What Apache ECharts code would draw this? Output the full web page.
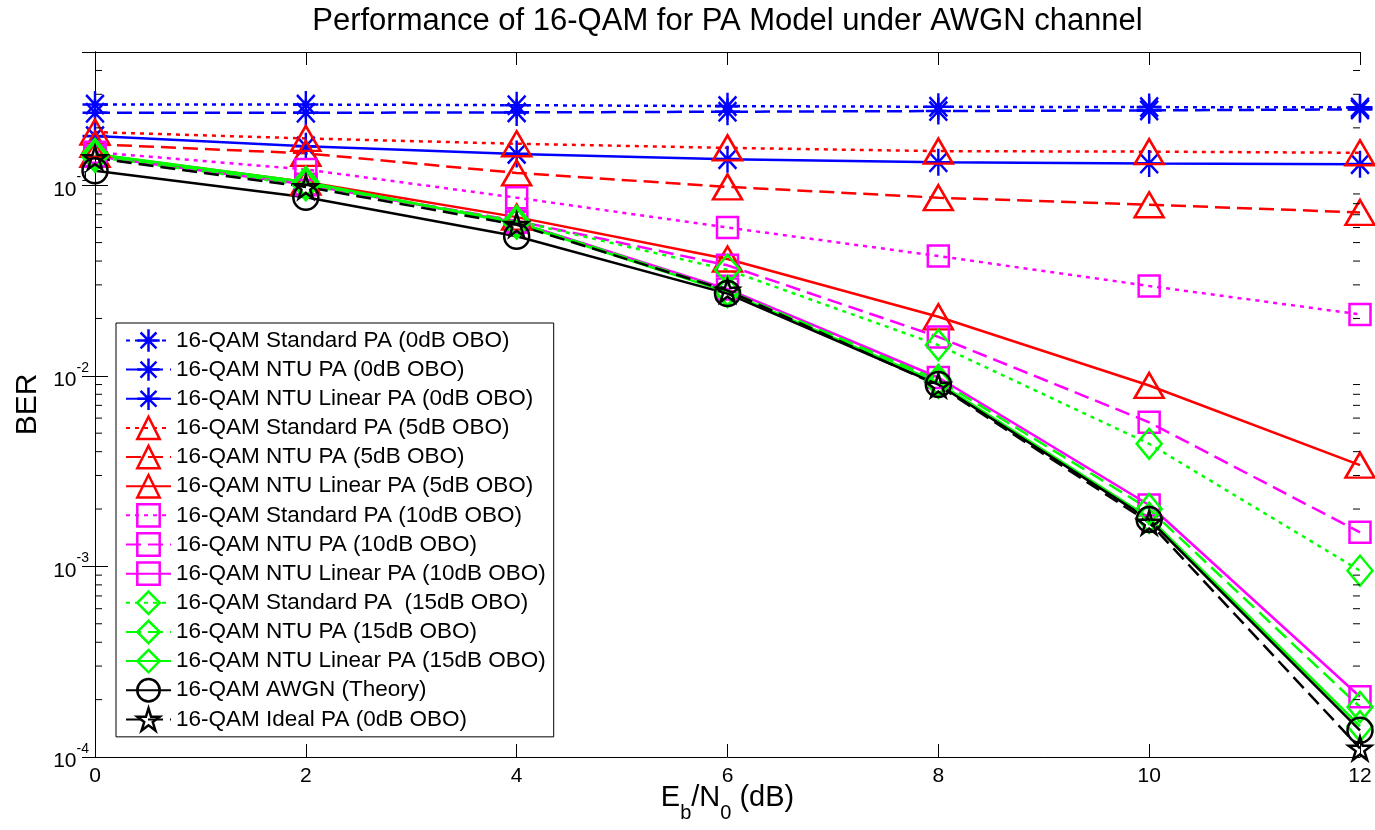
<!DOCTYPE html>
<html>
<head>
<meta charset="utf-8">
<script src="https://cdn.jsdelivr.net/npm/echarts@6/dist/echarts.min.js"></script>
<style>
  html, body { margin: 0; padding: 0; background: #fff; }
  #chart { width: 1375px; height: 830px; }
</style>
</head>
<body>
<div id="chart"></div>
<script>
// Eb/N0 sweep (dB)
const ebn0 = [0, 2, 4, 6, 8, 10, 12];
const xTicks = [0, 2, 4, 6, 8, 10, 12];
const yDecades = [1e-4, 1e-3, 1e-2, 1e-1];

// BER curves, 0 dB output back-off
const stdPa0   = [0.265, 0.265, 0.263, 0.260, 0.258, 0.257, 0.256];
const ntuPa0   = [0.240, 0.240, 0.241, 0.243, 0.245, 0.247, 0.250];
const ntuLin0  = [0.181, 0.160, 0.146, 0.137, 0.132, 0.130, 0.129];
// 5 dB OBO
const stdPa5   = [0.190, 0.176, 0.165, 0.157, 0.151, 0.150, 0.148];
const ntuPa5   = [0.164, 0.147, 0.116, 0.098, 0.086, 0.079, 0.072];
const ntuLin5  = [0.145, 0.104, 0.068, 0.041, 0.0204, 0.0089, 0.0034];
// 10 dB OBO
const stdPa10  = [0.149, 0.121, 0.086, 0.060, 0.0425, 0.0296, 0.021];
const ntuPa10  = [0.143, 0.101, 0.065, 0.038, 0.0160, 0.0057, 0.00151];
const ntuLin10 = [0.142, 0.101, 0.064, 0.0285, 0.0098, 0.0021, 0.000207];
// 15 dB OBO
const stdPa15  = [0.141, 0.100, 0.065, 0.036, 0.0145, 0.0044, 0.00095];
const ntuPa15  = [0.144, 0.102, 0.064, 0.028, 0.0095, 0.0020, 0.000183];
const ntuLin15 = [0.146, 0.104, 0.063, 0.0275, 0.0092, 0.0018, 0.000145];
// references
const awgnTheory = [0.119, 0.0865, 0.054, 0.027, 0.0090, 0.00176, 0.000138];
const idealPa0   = [0.139, 0.098, 0.062, 0.028, 0.0089, 0.00170, 0.000111];

const FONT = '"Liberation Sans", Arial, Helvetica, sans-serif';

// marker shapes
const ASTERISK = 'path://M0,-10L0,10M-10,0L10,0M-7.1,-7.1L7.1,7.1M-7.1,7.1L7.1,-7.1';
const PENTAGRAM = 'path://M0,-100L22,-31L95,-31L36,12L59,81L0,38L-59,81L-36,12L-95,-31L-22,-31Z';

const DOT = [4, 5];
const DASH = [15, 7];

const curves = [
  { name: '16-QAM Standard PA (0dB OBO)',       data: stdPa0,   color: '#0000ff', dash: DOT,     symbol: ASTERISK, size: [25, 27] },
  { name: '16-QAM NTU PA (0dB OBO)',            data: ntuPa0,   color: '#0000ff', dash: DASH,    symbol: ASTERISK, size: [25, 27] },
  { name: '16-QAM NTU Linear PA (0dB OBO)',     data: ntuLin0,  color: '#0000ff', dash: 'solid', symbol: ASTERISK, size: [25, 27] },
  { name: '16-QAM Standard PA (5dB OBO)',       data: stdPa5,   color: '#ff0000', dash: DOT,     symbol: 'triangle', size: [29, 25] },
  { name: '16-QAM NTU PA (5dB OBO)',            data: ntuPa5,   color: '#ff0000', dash: DASH,    symbol: 'triangle', size: [29, 25] },
  { name: '16-QAM NTU Linear PA (5dB OBO)',     data: ntuLin5,  color: '#ff0000', dash: 'solid', symbol: 'triangle', size: [29, 25] },
  { name: '16-QAM Standard PA (10dB OBO)',      data: stdPa10,  color: '#ff00ff', dash: DOT,     symbol: 'rect', size: [21, 21] },
  { name: '16-QAM NTU PA (10dB OBO)',           data: ntuPa10,  color: '#ff00ff', dash: DASH,    symbol: 'rect', size: [21, 21] },
  { name: '16-QAM NTU Linear PA (10dB OBO)',    data: ntuLin10, color: '#ff00ff', dash: 'solid', symbol: 'rect', size: [21, 21] },
  { name: '16-QAM Standard PA  (15dB OBO)',     data: stdPa15,  color: '#00ff00', dash: DOT,     symbol: 'diamond', size: [25, 30] },
  { name: '16-QAM NTU PA (15dB OBO)',           data: ntuPa15,  color: '#00ff00', dash: DASH,    symbol: 'diamond', size: [25, 30] },
  { name: '16-QAM NTU Linear PA (15dB OBO)',    data: ntuLin15, color: '#00ff00', dash: 'solid', symbol: 'diamond', size: [25, 30] },
  { name: '16-QAM AWGN (Theory)',               data: awgnTheory, color: '#000000', dash: 'solid', symbol: 'circle', size: [25, 25] },
  { name: '16-QAM Ideal PA (0dB OBO)',          data: idealPa0, color: '#000000', dash: DASH,    symbol: PENTAGRAM, size: [23, 23] }
];

// minor tick positions of the log axis: 2..9 x 10^k
const minorTickVals = [];
[-4, -3, -2, -1].forEach(function (e) {
  [2, 3, 4, 5, 6, 7, 8, 9].forEach(function (m) {
    const v = m * Math.pow(10, e);
    if (v < 0.5) minorTickVals.push(v);
  });
});

const X_MIN = 0, X_MAX = 12, Y_MIN = 1e-4, Y_MAX = 0.5;

const lineSeries = curves.map(function (c) {
  return {
    name: c.name,
    type: 'line',
    xAxisIndex: 0,
    yAxisIndex: 0,
    data: ebn0.map(function (x, i) { return [x, c.data[i]]; }),
    symbol: c.symbol,
    symbolSize: c.size,
    symbolKeepAspect: false,
    showAllSymbol: true,
    clip: false,
    lineStyle: { color: c.color, width: 2.5, type: c.dash, cap: 'butt' },
    itemStyle: { color: 'transparent', borderColor: c.color, borderWidth: 2.5 },
    emphasis: { disabled: true },
    z: 3
  };
});

const minorTicks = {
  type: 'custom',
  xAxisIndex: 0,
  yAxisIndex: 0,
  silent: true,
  clip: false,
  z: 4,
  data: minorTickVals.map(function (v) { return [X_MIN, v]; }),
  renderItem: function (params, api) {
    const v = api.value(1);
    const l = api.coord([X_MIN, v]);
    const r = api.coord([X_MAX, v]);
    return {
      type: 'group',
      children: [
        { type: 'line', shape: { x1: l[0], y1: l[1], x2: l[0] + 7, y2: l[1] }, style: { stroke: '#000', lineWidth: 1 } },
        { type: 'line', shape: { x1: r[0] - 7, y1: r[1], x2: r[0], y2: r[1] }, style: { stroke: '#000', lineWidth: 1 } }
      ]
    };
  }
};

function decadeLabel(v) {
  for (let i = 0; i < yDecades.length; i++) {
    if (Math.abs(v - yDecades[i]) / yDecades[i] < 1e-6) {
      const exp = Math.round(Math.log10(yDecades[i]));
      return '{b|10}{e|' + exp + '}';
    }
  }
  return '';
}

const axisLine = { show: true, lineStyle: { color: '#000', width: 1 } };

const option = {
  backgroundColor: '#ffffff',
  animation: false,
  textStyle: { fontFamily: FONT },
  graphic: [{
    type: 'text',
    x: 727.5,
    y: 21,
    style: {
      text: 'Performance of 16-QAM for PA Model under AWGN channel',
      fontFamily: FONT,
      fontSize: 31,
      fill: '#000',
      align: 'center',
      verticalAlign: 'middle'
    }
  }],
  grid: { left: 95, right: 15, top: 52, bottom: 73, show: false, containLabel: false, outerBoundsMode: 'none' },
  legend: {
    orient: 'vertical',
    left: 116,
    top: 323,
    padding: [5, 8, 5, 9],
    itemWidth: 45,
    itemHeight: 28,
    itemGap: 4.25,
    backgroundColor: '#ffffff',
    borderColor: '#000',
    borderWidth: 1,
    borderRadius: 0,
    selectedMode: false,
    textStyle: { fontFamily: FONT, fontSize: 22.5, color: '#000', padding: [0, 0, 0, 0] },
    itemStyle: { borderWidth: 2.5 },
    data: curves.map(function (c) { return c.name; })
  },
  xAxis: [{
    type: 'value',
    min: X_MIN, max: X_MAX, interval: 2,
    position: 'bottom',
    axisLine: axisLine,
    axisTick: { show: true, inside: true, length: 13, lineStyle: { color: '#000' } },
    splitLine: { show: false },
    axisLabel: { show: true, margin: 9, fontFamily: FONT, fontSize: 21, color: '#000',
      formatter: function (v) { return xTicks.indexOf(v) >= 0 ? String(v) : ''; } },
    name: '{n|E}{s|b}{n|/N}{s|0}{n| (dB)}',
    nameLocation: 'middle',
    nameGap: 26,
    nameMoveOverlap: false,
    nameTextStyle: {
      rich: {
        n: { fontFamily: FONT, fontSize: 29, color: '#000', lineHeight: 40, verticalAlign: 'top' },
        s: { fontFamily: FONT, fontSize: 20, color: '#000', lineHeight: 18, verticalAlign: 'bottom' }
      }
    }
  }, {
    type: 'value',
    min: X_MIN, max: X_MAX, interval: 2,
    position: 'top',
    axisLine: axisLine,
    axisTick: { show: true, inside: true, length: 13, lineStyle: { color: '#000' } },
    splitLine: { show: false },
    axisLabel: { show: false }
  }],
  yAxis: [{
    type: 'log',
    logBase: 10,
    min: Y_MIN, max: Y_MAX,
    position: 'left',
    axisLine: axisLine,
    axisTick: { show: true, inside: true, length: 13, lineStyle: { color: '#000' } },
    splitLine: { show: false },
    minorTick: { show: false },
    axisLabel: {
      show: true, margin: 6, formatter: decadeLabel,
      rich: {
        b: { fontFamily: FONT, fontSize: 21, color: '#000', lineHeight: 30, verticalAlign: 'bottom' },
        e: { fontFamily: FONT, fontSize: 14, color: '#000', lineHeight: 16, verticalAlign: 'top' }
      }
    },
    name: 'BER',
    nameLocation: 'middle',
    nameRotate: 90,
    nameGap: 52,
    nameMoveOverlap: false,
    nameTextStyle: { fontFamily: FONT, fontSize: 30, color: '#000' }
  }, {
    type: 'log',
    logBase: 10,
    min: Y_MIN, max: Y_MAX,
    position: 'right',
    axisLine: axisLine,
    axisTick: { show: true, inside: true, length: 13, lineStyle: { color: '#000' } },
    splitLine: { show: false },
    axisLabel: { show: false }
  }],
  series: [minorTicks].concat(lineSeries)
};

const chart = echarts.init(document.getElementById('chart'), null, { renderer: 'canvas' });
chart.setOption(option);
</script>
</body>
</html>
